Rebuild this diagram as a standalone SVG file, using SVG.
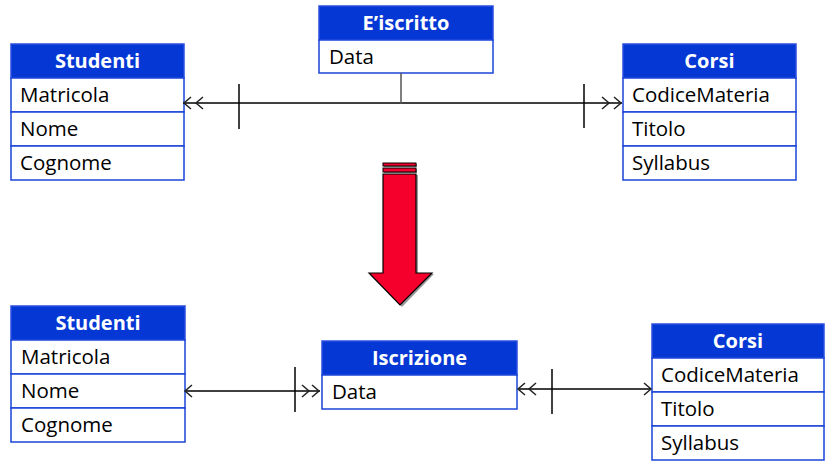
<svg xmlns="http://www.w3.org/2000/svg" width="835" height="466" viewBox="0 0 835 466">
<style>
.hd{fill:#0437d4;stroke:#2a4fe0;stroke-width:1.5}
.rw{fill:#fff;stroke:#1a44d8;stroke-width:1.5}
.ht{font-family:"Open Sans","Noto Sans",sans-serif;font-weight:bold;font-size:20px;fill:#fff;text-anchor:middle}
.bt{font-family:"Open Sans","Noto Sans",sans-serif;font-size:20.5px;fill:#000}
.ln{stroke:#000;stroke-width:1.5;fill:none}
.ch{stroke:#222;stroke-width:1.5;fill:none}
</style>
<rect width="835" height="466" fill="#fff"/>
<g id="studenti1">
<rect class="hd" x="11" y="44" width="173" height="34"/>
<rect class="rw" x="11" y="78" width="173" height="34"/>
<rect class="rw" x="11" y="112" width="173" height="34"/>
<rect class="rw" x="11" y="146" width="173" height="34"/>
<text class="ht" x="97.5" y="68">Studenti</text>
<text class="bt" x="20" y="102">Matricola</text>
<text class="bt" x="20" y="136">Nome</text>
<text class="bt" x="20" y="170">Cognome</text>
</g>
<g id="iscritto">
<rect class="hd" x="319" y="6" width="174" height="34"/>
<rect class="rw" x="319" y="40" width="174" height="33"/>
<text class="ht" x="406" y="30">E’iscritto</text>
<text class="bt" x="329" y="64">Data</text>
</g>
<g id="corsi1">
<rect class="hd" x="623" y="44" width="173" height="34"/>
<rect class="rw" x="623" y="78" width="173" height="34"/>
<rect class="rw" x="623" y="112" width="173" height="34"/>
<rect class="rw" x="623" y="146" width="173" height="34"/>
<text class="ht" x="709.5" y="68">Corsi</text>
<text class="bt" x="632" y="102">CodiceMateria</text>
<text class="bt" x="632" y="136">Titolo</text>
<text class="bt" x="632" y="170">Syllabus</text>
</g>
<g id="studenti2">
<rect class="hd" x="11" y="306" width="174" height="34"/>
<rect class="rw" x="11" y="340" width="174" height="34"/>
<rect class="rw" x="11" y="374" width="174" height="34"/>
<rect class="rw" x="11" y="408" width="174" height="34"/>
<text class="ht" x="98" y="330">Studenti</text>
<text class="bt" x="21" y="364">Matricola</text>
<text class="bt" x="21" y="398">Nome</text>
<text class="bt" x="21" y="432">Cognome</text>
</g>
<g id="iscrizione">
<rect class="hd" x="322" y="341" width="195" height="34"/>
<rect class="rw" x="322" y="375" width="195" height="34"/>
<text class="ht" x="419.5" y="365">Iscrizione</text>
<text class="bt" x="332" y="399">Data</text>
</g>
<g id="corsi2">
<rect class="hd" x="652" y="324" width="172" height="34"/>
<rect class="rw" x="652" y="358" width="172" height="34"/>
<rect class="rw" x="652" y="392" width="172" height="34"/>
<rect class="rw" x="652" y="426" width="172" height="34"/>
<text class="ht" x="738" y="348">Corsi</text>
<text class="bt" x="661" y="382">CodiceMateria</text>
<text class="bt" x="661" y="416">Titolo</text>
<text class="bt" x="661" y="450">Syllabus</text>
</g>
<g id="arrow">
<rect x="384" y="164" width="33" height="3" fill="#888"/>
<rect x="384" y="169" width="33" height="4" fill="#888"/>
<polygon points="385,175 418,175 418,274 434,274 402,307 371,274 385,274" fill="#999"/>
<rect x="383" y="163" width="33" height="3" fill="#f5002d" stroke="#000" stroke-width="1"/>
<rect x="383" y="168" width="33" height="4" fill="#f5002d" stroke="#000" stroke-width="1"/>
<polygon points="383,174 416,174 416,273 432,273 400,305 369,273 383,273" fill="#f5002d" stroke="#000" stroke-width="1.2"/>
</g>
<g id="connectors">
<line class="ln" x1="183" y1="103" x2="622" y2="103"/>
<line stroke="#555" stroke-width="1.5" x1="401" y1="73" x2="401" y2="104"/>
<line class="ln" x1="239" y1="84" x2="239" y2="129"/>
<line class="ln" x1="584" y1="84" x2="584" y2="128"/>
<polyline class="ch" points="191,97 184,103 191,109"/>
<polyline class="ch" points="203,97 196,103 203,109"/>
<polyline class="ch" points="614,97 621,103 614,109"/>
<polyline class="ch" points="602,97 609,103 602,109"/>
<line class="ln" x1="185" y1="391" x2="320" y2="391"/>
<line class="ln" x1="295" y1="367" x2="295" y2="412"/>
<polyline class="ch" points="192,385 185,391 192,397"/>
<polyline class="ch" points="312,385 319,391 312,397"/>
<polyline class="ch" points="302,385 309,391 302,397"/>
<line class="ln" x1="518" y1="389" x2="651" y2="389"/>
<line class="ln" x1="552" y1="369" x2="552" y2="414"/>
<polyline class="ch" points="525,383 518,389 525,395"/>
<polyline class="ch" points="536,383 529,389 536,395"/>
<polyline class="ch" points="644,383 651,389 644,395"/>
</g>
</svg>
